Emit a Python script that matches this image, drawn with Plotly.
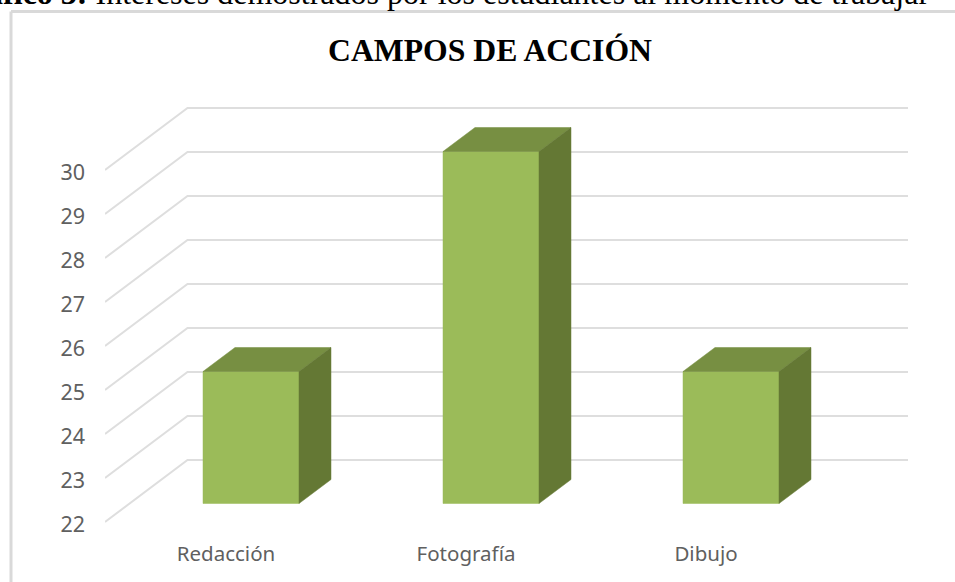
import plotly.graph_objects as go

# Data
categories = ["Redacción", "Fotografía", "Dibujo"]
values = [25, 30, 25]
axis_ticks = [22, 23, 24, 25, 26, 27, 28, 29, 30]
title_text = "CAMPOS DE ACCIÓN"
caption_text = "<b>Gráfico 3:</b> Intereses demostrados por los estudiantes al momento de trabajar"

# Picture geometry
W, H = 955, 582
PX_PER_CAT = 240.0
PX_PER_UNIT = 44.0
ORIGIN_X, ORIGIN_Y = 251.0, 503.5     # first category, value 22 on the bars' front plane
PLOT_L, PLOT_R, PLOT_T, PLOT_B = 105, 908, 100, 535
BAR_HALF = 48 / PX_PER_CAT
BAR_DX, BAR_DY = 32 / PX_PER_CAT, 24 / PX_PER_UNIT
WALL_FRONT_DY = -18.5 / PX_PER_UNIT
WALL_BACK_DY = 43.5 / PX_PER_UNIT
TICK_LABEL_DY = -2.5 / PX_PER_UNIT
LABEL_SHIFT = -25 / PX_PER_CAT

FRONT, TOP, SIDE = "#9BBB59", "#778F42", "#647834"
GRID = "#DEDEDE"
TEXT = "#606060"
BASE = axis_ticks[0]


def xv(px):
    return (px - ORIGIN_X) / PX_PER_CAT


def yv(px):
    return BASE + (ORIGIN_Y - px) / PX_PER_UNIT


fig = go.Figure()

# Floor and back-wall grid
gx, gy = [], []
for t in axis_ticks:
    gx += [xv(PLOT_L), xv(187.5), xv(PLOT_R), None]
    gy += [t + WALL_FRONT_DY, t + WALL_BACK_DY, t + WALL_BACK_DY, None]
fig.add_trace(go.Scatter(x=gx, y=gy, mode="lines", line=dict(color=GRID, width=2),
                         hoverinfo="skip", showlegend=False, cliponaxis=False))


def face(xs, ys, color):
    fig.add_trace(go.Scatter(x=xs, y=ys, mode="lines", fill="toself", fillcolor=color,
                             line=dict(color=color, width=0.5), hoverinfo="skip",
                             showlegend=False, cliponaxis=False))


for i, v in enumerate(values):
    l, r = i - BAR_HALF, i + BAR_HALF
    face([l, r, r, l, l], [BASE, BASE, v, v, BASE], FRONT)
    face([l, r, r + BAR_DX, l + BAR_DX, l], [v, v, v + BAR_DY, v + BAR_DY, v], TOP)
    face([r, r + BAR_DX, r + BAR_DX, r, r],
         [BASE, BASE + BAR_DY, v + BAR_DY, v, BASE], SIDE)

plot_w, plot_h = PLOT_R - PLOT_L, PLOT_B - PLOT_T


def paper_x(px):
    return (px - PLOT_L) / plot_w


def paper_y(px):
    return (PLOT_B - px) / plot_h


border = dict(type="line", xref="paper", yref="paper",
              line=dict(color="#D9D9D9", width=3), layer="below")

fig.update_layout(
    width=W, height=H, autosize=False,
    margin=dict(l=PLOT_L, r=W - PLOT_R, t=PLOT_T, b=H - PLOT_B, pad=0),
    paper_bgcolor="white", plot_bgcolor="white", showlegend=False,
    title=dict(text=f"<b>{title_text}</b>", x=490 / W, xanchor="center",
               y=1 - 50 / H, yanchor="middle", xref="container",
               font=dict(family="Liberation Serif", size=31.7, color="#000000")),
    xaxis=dict(range=[xv(PLOT_L), xv(PLOT_R)], tickmode="array",
               tickvals=[i + LABEL_SHIFT for i in range(len(categories))],
               ticktext=categories, showgrid=False, zeroline=False, showline=False,
               ticks="", ticklabelstandoff=4,
               tickfont=dict(family="Noto Sans", size=20.5, color=TEXT)),
    yaxis=dict(range=[yv(PLOT_B), yv(PLOT_T)], tickmode="array",
               tickvals=[t + WALL_FRONT_DY + TICK_LABEL_DY for t in axis_ticks],
               ticktext=[str(t) for t in axis_ticks], showgrid=False, zeroline=False,
               showline=False, ticks="", ticklabelstandoff=19,
               tickfont=dict(family="Noto Sans", size=21.5, color=TEXT)),
    shapes=[
        dict(border, x0=paper_x(11), x1=paper_x(11), y0=paper_y(11.5), y1=paper_y(H + 10)),
        dict(border, x0=paper_x(11), x1=paper_x(W + 10), y0=paper_y(11.5), y1=paper_y(11.5)),
    ],
    annotations=[dict(text=caption_text, xref="paper", yref="paper",
                      x=paper_x(931), y=paper_y(-7), xanchor="right", yanchor="middle",
                      showarrow=False,
                      font=dict(family="Liberation Serif", size=32, color="#000000"))],
)

fig.write_html("out.html", config=dict(displayModeBar=False),
               post_script="document.body.style.margin='0';document.body.style.overflow='hidden';")
